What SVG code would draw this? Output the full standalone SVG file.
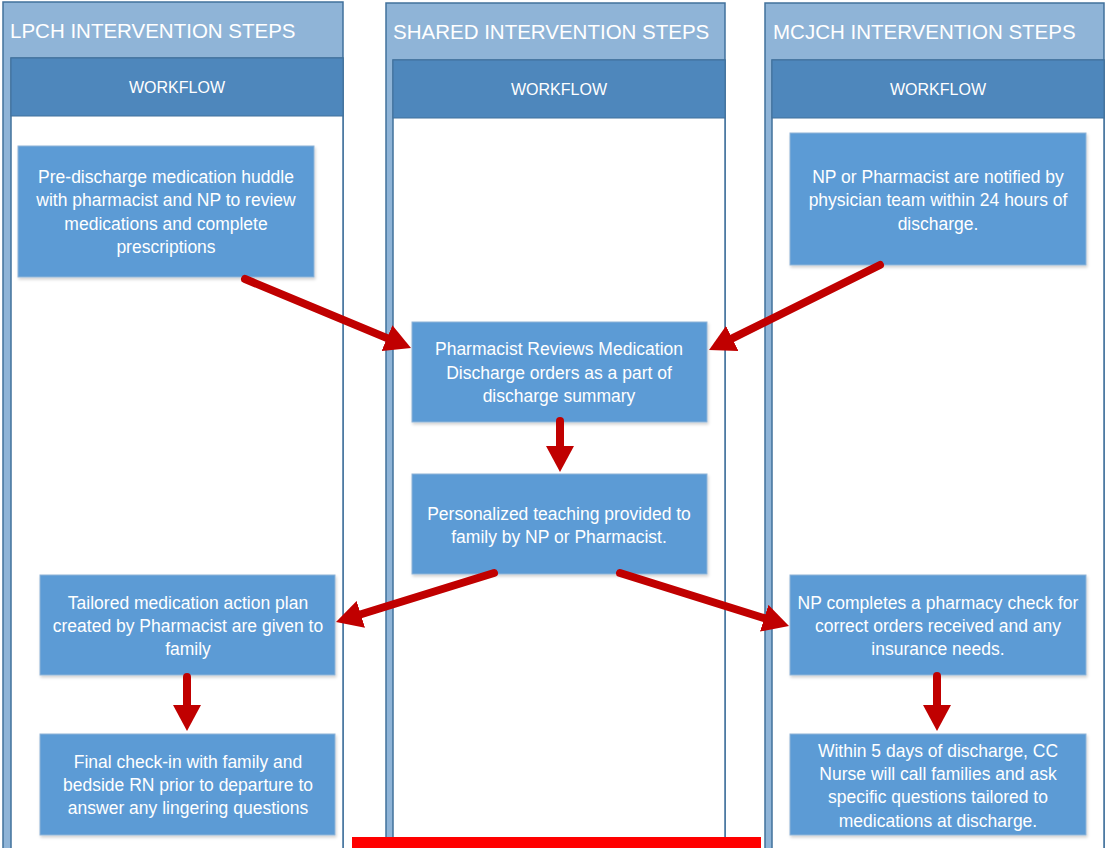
<svg xmlns="http://www.w3.org/2000/svg" width="1106" height="848" viewBox="0 0 1106 848">
<style>
.outer{fill:#8FB4D7;stroke:#41719C;stroke-width:1.5}
.lane{fill:#FFFFFF;stroke:#41719C;stroke-width:1.5}
.wf{fill:#4E87BC;stroke:#41719C;stroke-width:1}
.htxt{font-family:"Liberation Sans",Arial,sans-serif;font-size:20.5px;fill:#FFFFFF}
.wtxt{font-family:"Liberation Sans",Arial,sans-serif;font-size:16px;fill:#FFFFFF;text-anchor:middle}
.node{fill:#5B9BD5;stroke:#8FB4D7;stroke-width:1}
.ntxt{font-family:"Liberation Sans",Arial,sans-serif;font-size:17.5px;fill:#FFFFFF;text-anchor:middle}
.conn{stroke:#C00000;stroke-width:8;stroke-linecap:round;fill:none}
</style>
<defs>
<marker id="ah" markerUnits="userSpaceOnUse" viewBox="0 0 26 28" refX="4" refY="14" markerWidth="26" markerHeight="28" orient="auto">
<path d="M0,0 L26,14 L0,28 z" fill="#C00000"/>
</marker>
<filter id="sh" x="-5%" y="-5%" width="115%" height="120%">
<feDropShadow dx="1" dy="2" stdDeviation="1.5" flood-color="#000000" flood-opacity="0.18"/>
</filter>
</defs>
<rect x="0" y="0" width="1106" height="848" fill="#FFFFFF"/>

<g id="lane-lpch">
<rect class="outer" x="3" y="2" width="340" height="880"/>
<rect class="lane" x="11" y="58" width="332" height="830"/>
<rect class="wf" x="11" y="58" width="332" height="58"/>
<text class="htxt" x="10" y="38">LPCH INTERVENTION STEPS</text>
<text class="wtxt" x="177" y="93">WORKFLOW</text>
</g>
<g id="lane-shared">
<rect class="outer" x="386" y="3" width="339" height="880"/>
<rect class="lane" x="393" y="60" width="332" height="830"/>
<rect class="wf" x="393" y="60" width="332" height="58"/>
<text class="htxt" x="393" y="39">SHARED INTERVENTION STEPS</text>
<text class="wtxt" x="559" y="95">WORKFLOW</text>
</g>
<g id="lane-mcjch">
<rect class="outer" x="765" y="3" width="339" height="880"/>
<rect class="lane" x="772" y="60" width="332" height="830"/>
<rect class="wf" x="772" y="60" width="332" height="58"/>
<text class="htxt" x="773" y="39">MCJCH INTERVENTION STEPS</text>
<text class="wtxt" x="938" y="95">WORKFLOW</text>
</g>

<g id="n-lpch1">
<rect class="node" filter="url(#sh)" x="18" y="146" width="296" height="131"/>
<text class="ntxt" x="166" y="183">Pre-discharge medication huddle</text>
<text class="ntxt" x="166" y="206">with pharmacist and NP to review</text>
<text class="ntxt" x="166" y="230">medications and complete</text>
<text class="ntxt" x="166" y="253">prescriptions</text>
</g>
<g id="n-mcjch1">
<rect class="node" filter="url(#sh)" x="790" y="133" width="296" height="132"/>
<text class="ntxt" x="938" y="183">NP or Pharmacist are notified by</text>
<text class="ntxt" x="938" y="206">physician team within 24 hours of</text>
<text class="ntxt" x="938" y="230">discharge.</text>
</g>
<g id="n-shared1">
<rect class="node" filter="url(#sh)" x="412" y="322" width="295" height="100"/>
<text class="ntxt" x="559" y="355">Pharmacist Reviews Medication</text>
<text class="ntxt" x="559" y="379">Discharge orders as a part of</text>
<text class="ntxt" x="559" y="402">discharge summary</text>
</g>
<g id="n-shared2">
<rect class="node" filter="url(#sh)" x="412" y="474" width="295" height="100"/>
<text class="ntxt" x="559" y="520">Personalized teaching provided to</text>
<text class="ntxt" x="559" y="543">family by NP or Pharmacist.</text>
</g>
<g id="n-lpch2">
<rect class="node" filter="url(#sh)" x="40" y="575" width="295" height="100"/>
<text class="ntxt" x="188" y="609">Tailored medication action plan</text>
<text class="ntxt" x="188" y="632">created by Pharmacist are given to</text>
<text class="ntxt" x="188" y="655">family</text>
</g>
<g id="n-mcjch2">
<rect class="node" filter="url(#sh)" x="790" y="575" width="296" height="100"/>
<text class="ntxt" x="938" y="609">NP completes a pharmacy check for</text>
<text class="ntxt" x="938" y="632">correct orders received and any</text>
<text class="ntxt" x="938" y="655">insurance needs.</text>
</g>
<g id="n-lpch3">
<rect class="node" filter="url(#sh)" x="40" y="734" width="295" height="101"/>
<text class="ntxt" x="188" y="768">Final check-in with family and</text>
<text class="ntxt" x="188" y="791">bedside RN prior to departure to</text>
<text class="ntxt" x="188" y="814">answer any lingering questions</text>
</g>
<g id="n-mcjch3">
<rect class="node" filter="url(#sh)" x="790" y="734" width="296" height="101"/>
<text class="ntxt" x="938" y="757">Within 5 days of discharge, CC</text>
<text class="ntxt" x="938" y="780">Nurse will call families and ask</text>
<text class="ntxt" x="938" y="803">specific questions tailored to</text>
<text class="ntxt" x="938" y="827">medications at discharge.</text>
</g>

<g id="connectors">
<line class="conn" marker-end="url(#ah)" x1="245" y1="279" x2="390.7" y2="339.6"/>
<line class="conn" marker-end="url(#ah)" x1="880" y1="265" x2="728.7" y2="340.2"/>
<line class="conn" marker-end="url(#ah)" x1="560" y1="421" x2="560" y2="450"/>
<line class="conn" marker-end="url(#ah)" x1="494" y1="573" x2="357" y2="615.5"/>
<line class="conn" marker-end="url(#ah)" x1="620" y1="573" x2="768" y2="619.4"/>
<line class="conn" marker-end="url(#ah)" x1="187" y1="677" x2="187" y2="709"/>
<line class="conn" marker-end="url(#ah)" x1="937" y1="676" x2="937" y2="709"/>
</g>

<rect id="red-bar" x="352" y="837" width="409" height="11" fill="#FF0000"/>
</svg>
